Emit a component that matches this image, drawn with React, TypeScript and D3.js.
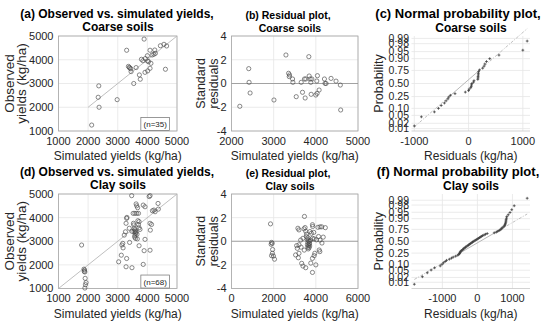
import * as d3 from "d3";

// ---------- Coarse soils ----------
const coarseSim = [3890, 3300, 4090, 4440, 4560, 4650, 4250, 4160, 4220, 4270, 4000, 3800, 3850, 3930, 4000, 4040, 3620, 3360, 3390, 3410, 3440, 3450, 4120, 4090, 4010, 3920, 4610, 3730, 3760, 3540, 2360, 2340, 2370, 2980, 2120];
const coarseObs = [4870, 4400, 4400, 4590, 4650, 4580, 4410, 4200, 4230, 4270, 4170, 4020, 3960, 4050, 3950, 3920, 3670, 3720, 3680, 3650, 3620, 3500, 3850, 3640, 3530, 3470, 3600, 3360, 3180, 3000, 2900, 2420, 2000, 2320, 1250];

const coarseResSim = [2197, 2409, 2417, 2441, 3007, 3291, 3354, 3377, 3369, 3448, 3456, 3535, 3653, 3684, 3731, 3763, 3747, 3834, 3842, 3865, 3881, 3889, 3905, 4023, 3999, 4038, 4030, 4078, 4204, 4219, 4243, 4361, 4479, 4589, 4581];
const coarseStdRes = [-1.92, 1.25, 0.1, -0.8, -1.39, 2.4, 0.86, 0.72, 0.58, 0.38, 0.1, -1.11, 0.1, -0.74, 0.38, 0.38, -1.22, 2.26, 0.63, 0.38, 0.1, -0.91, 0.38, 0.21, -0.97, 0.66, -0.83, -0.55, 0.38, 0.01, 0.0, 0.43, 0.2, -2.23, -0.13];

const coarseResiduals = [-1000, -870, -630, -555, -505, -445, -415, -380, -365, -335, -250, -60, 0, 10, 40, 50, 55, 60, 90, 100, 170, 175, 175, 180, 180, 185, 200, 260, 285, 300, 330, 390, 560, 1000, 1080];

// ---------- Clay soils ----------
const claySim = [1780, 1860, 1880, 1870, 1890, 1900, 1930, 1910, 1890,
  3470, 4060, 4090, 3620, 3640, 3670, 3860, 3920, 4360, 4170, 4220, 4260, 4370, 3520, 3580, 3640, 3700,
  3310, 3300, 3280, 3390, 3680, 3720, 3720, 3530, 3540, 3560, 3580, 3600, 3620, 3600, 3580, 3570, 3600, 3550, 3650, 3260, 3220, 4090, 4140, 4100, 3920,
  3170, 3140, 3180, 3120, 3030, 3300, 3280, 3480, 3860, 3720, 3890, 4090,
  3480, 3660, 3700, 3400, 3750];
const clayObs = [2840, 1820, 1780, 1720, 1700, 1430, 1250, 1160, 1020,
  4930, 4890, 4930, 4580, 4500, 4420, 4530, 4460, 4600, 4290, 4320, 4250, 4360, 4180, 4180, 4180, 4180,
  4010, 3970, 3760, 3550, 3870, 3830, 3570, 3760, 3690, 3540, 3480, 3420, 3380, 3330, 3250, 3180, 3120, 3400, 3300, 3400, 3260, 3760, 3710, 3470, 3080,
  2910, 2840, 2720, 2410, 2130, 2270, 1920, 1880, 2020, 2810, 2600, 2620,
  3420, 3100, 3700, 2950, 3500];

const clayResSim = [1850, 1900, 1930, 1880, 1950, 1940, 1900, 1990, 2040,
  3460, 3150, 3200, 3440, 3490, 3520, 3840, 3850, 3720, 3790, 4200, 4280, 4450, 4130, 4350,
  3840, 3920, 4030, 4200, 4290, 3280, 3390, 3550, 3620,
  3600, 3650, 3700, 3620, 3680, 3600, 3660, 3710, 3620, 3680, 3640, 3700, 3750,
  3090, 3120, 3200, 3040, 3170, 3200, 3330, 3390, 3520, 3840, 3920, 3950, 4000, 3760, 3840, 4160, 4190, 3300, 3450,
  3560, 3900, 4100];
const clayStdRes = [1.47, -0.1, -0.18, -0.26, -0.7, -1.02, -1.22, -1.25, -1.52,
  2.1, 1.1, 0.96, 1.05, 1.16, 0.85, 1.4, 1.25, 0.82, 0.68, 1.22, 1.22, 1.15, 0.4, 0.35,
  0.25, 0.2, 0.12, 0.1, -0.15, 0.1, 0.25, 0.4, 0.3,
  0.15, 0.05, 0.0, -0.1, -0.2, -0.3, -0.35, -0.4, -0.5, -0.55, -0.65, -0.2, 0.1,
  -0.37, -0.6, -0.3, -1.16, -1.4, -1.02, -1.87, -2.1, -2.24, -1.45, -1.22, -1.02, -2.0, -1.85, -2.64, -0.74, -0.88, -0.5, -0.75,
  0.6, 0.75, 1.18];

const clayResiduals = [-1800, -1570, -1430, -1320, -1220, -1060, -1010, -970, -920, -880, -800, -740, -690, -620, -560, -530, -510, -500, -490, -470, -450, -420, -400, -380, -350, -330, -300, -270, -250, -220, -200, -170, -140, -120, -90, -60, -30, 0, 30, 60, 90, 120, 150, 190, 230, 280, 480, 540, 580, 620, 650, 680, 700, 730, 760, 780, 790, 800, 810, 815, 820, 830, 840, 880, 930, 980, 1050, 1420];

// ---------- ticks / labels ----------
const yieldTicks = [1000, 2000, 3000, 4000, 5000];
const stdResTicks = [-4, -2, 0, 2, 4];
const coarseResTicks = [2000, 3000, 4000, 5000];
const clayResTicks = [0, 2000, 4000, 6000];
const normTicks = [-1000, 0, 1000];
const probTicks = [0.01, 0.02, 0.05, 0.1, 0.25, 0.5, 0.75, 0.9, 0.95, 0.98, 0.99];
const probLabels = ["0.01", "0.02", "0.05", "0.10", "0.25", "0.50", "0.75", "0.90", "0.95", "0.98", "0.99"];
const coarseLine = [2000, 5000];
const clayLine = [1000, 5000];

const FONT = "'Liberation Sans', Arial, Helvetica, sans-serif";
const GRID = "#e6e6e6";
const AXIS = "#a6a6a6";
const TXT = "#262626";
const MARK = "#4a4a4a";

const cols = [[58.5, 177], [231.5, 358], [411.5, 530]];
const rows = [[36, 131], [194, 288.5]];

// inverse normal CDF (Acklam)
function norminv(p: number) {
  const a = [-39.69683028665376, 220.9460984245205, -275.9285104469687, 138.357751867269, -30.66479806614716, 2.506628277459239];
  const b = [-54.47609879822406, 161.5858368580409, -155.6989798598866, 66.80131188771972, -13.28068155288572];
  const c = [-0.007784894002430293, -0.3223964580411365, -2.400758277161838, -2.549732539343734, 4.374664141464968, 2.938163982698783];
  const d = [0.007784695709041462, 0.3224671290700398, 2.445134137142996, 3.754408661907416];
  const lo = 0.02425;
  if (p < lo) {
    const q = Math.sqrt(-2 * Math.log(p));
    return (((((c[0] * q + c[1]) * q + c[2]) * q + c[3]) * q + c[4]) * q + c[5]) / ((((d[0] * q + d[1]) * q + d[2]) * q + d[3]) * q + 1);
  }
  if (p <= 1 - lo) {
    const q = p - 0.5, r = q * q;
    return (((((a[0] * r + a[1]) * r + a[2]) * r + a[3]) * r + a[4]) * r + a[5]) * q / (((((b[0] * r + b[1]) * r + b[2]) * r + b[3]) * r + b[4]) * r + 1);
  }
  return -norminv(1 - p);
}

// matlab-style percentile
function prctile(sorted: number[], p: number) {
  const n = sorted.length;
  const pos = n * p + 0.5;
  const i = Math.floor(pos);
  if (i < 1) return sorted[0];
  if (i >= n) return sorted[n - 1];
  return sorted[i - 1] + (pos - i) * (sorted[i] - sorted[i - 1]);
}

function Frame({ xs, ys, xTicks, yTicks }: any) {
  const [x0, x1] = xs.range();
  const [yb, yt] = ys.range();
  return (
    <g>
      {xTicks.map((t: number) => (
        <line key={"gx" + t} x1={xs(t)} x2={xs(t)} y1={yt} y2={yb} stroke={GRID} strokeWidth={0.8} />
      ))}
      {yTicks.map((t: number) => (
        <line key={"gy" + t} x1={x0} x2={x1} y1={ys(t)} y2={ys(t)} stroke={GRID} strokeWidth={0.8} />
      ))}
      <rect x={x0} y={yt} width={x1 - x0} height={yb - yt} fill="none" stroke={AXIS} strokeWidth={0.8} />
      {xTicks.map((t: number) => (
        <text key={"tx" + t} x={xs(t)} y={yb + 13.5} textAnchor="middle" fontSize={11} fill={TXT}>{t}</text>
      ))}
      {yTicks.map((t: number) => (
        <text key={"ty" + t} x={x0 - 5} y={ys(t)} dy="0.36em" textAnchor="end" fontSize={11} fill={TXT}>{t}</text>
      ))}
    </g>
  );
}

function Title({ cx, y, lines, sizes }: any) {
  return (
    <g fontWeight="bold" fill="#000" textAnchor="middle">
      {lines.map((s: string, i: number) => (
        <text key={i} x={cx[i]} y={y + i * 13.5} fontSize={sizes[i]}>{s}</text>
      ))}
    </g>
  );
}

function YLabel({ x, cy, lines, size }: any) {
  return (
    <g fill={TXT} textAnchor="middle" fontSize={size}>
      {lines.map((s: string, i: number) => (
        <text key={i} transform={`translate(${x[i]},${cy}) rotate(-90)`}>{s}</text>
      ))}
    </g>
  );
}

function Circles({ xs, ys, xv, yv }: any) {
  return (
    <g fill="none" stroke={MARK} strokeWidth={0.65}>
      {xv.map((v: number, i: number) => (
        <circle key={i} cx={xs(v)} cy={ys(yv[i])} r={2.1} />
      ))}
    </g>
  );
}

function ObsPanel({ col, row, sim, obs, line, n }: any) {
  const xs = d3.scaleLinear().domain([1000, 5000]).range(cols[col]);
  const ys = d3.scaleLinear().domain([1000, 5000]).range([rows[row][1], rows[row][0]]);
  const bx = xs(3780), by = ys(1570);
  return (
    <g>
      <Frame xs={xs} ys={ys} xTicks={yieldTicks} yTicks={yieldTicks} />
      <line x1={xs(line[0])} y1={ys(line[0])} x2={xs(line[1])} y2={ys(line[1])} stroke="#b8b8b8" strokeWidth={0.9} />
      <Circles xs={xs} ys={ys} xv={sim} yv={obs} />
      <rect x={bx} y={by} width={xs(4750) - bx} height={ys(1020) - by} fill="#fff" stroke="#6e6e6e" strokeWidth={0.7} />
      <text x={(bx + xs(4750)) / 2} y={ys(1020) - 3.5} textAnchor="middle" fontSize={8} fill={TXT}>{`(n=${n})`}</text>
    </g>
  );
}

function ResPanel({ col, row, sim, res, xDomain, xTicks }: any) {
  const xs = d3.scaleLinear().domain(xDomain).range(cols[col]);
  const ys = d3.scaleLinear().domain([-4, 4]).range([rows[row][1], rows[row][0]]);
  return (
    <g>
      <Frame xs={xs} ys={ys} xTicks={xTicks} yTicks={stdResTicks} />
      <line x1={xs.range()[0]} x2={xs.range()[1]} y1={ys(0)} y2={ys(0)} stroke="#8f8f8f" strokeWidth={0.8} />
      <Circles xs={xs} ys={ys} xv={sim} yv={res} />
    </g>
  );
}

function NormPanel({ col, row, res }: any) {
  const sorted = [...res].sort((a, b) => a - b);
  const n = sorted.length;
  const zMax = -norminv(0.25 / n);
  const lo = sorted[0], hi = sorted[n - 1];
  const pad = 0.025 * (hi - lo);
  const xs = d3.scaleLinear().domain([lo - pad, hi + pad]).range(cols[col]);
  const ys = d3.scaleLinear().domain([-zMax, zMax]).range([rows[row][1], rows[row][0]]);
  const q1 = prctile(sorted, 0.25), q3 = prctile(sorted, 0.75);
  const z1 = norminv(0.25), z3 = norminv(0.75);
  const slope = (z3 - z1) / (q3 - q1);
  const zAt = (v: number) => z1 + (v - q1) * slope;
  const probZ = probTicks.map(norminv);
  return (
    <g>
      <g>
        {normTicks.map((t) => (
          <line key={"v" + t} x1={xs(t)} x2={xs(t)} y1={rows[row][0]} y2={rows[row][1]} stroke={GRID} strokeWidth={0.8} />
        ))}
        {probZ.map((z, i) => (
          <line key={"h" + i} x1={cols[col][0]} x2={cols[col][1]} y1={ys(z)} y2={ys(z)} stroke={GRID} strokeWidth={0.8} />
        ))}
        <line x1={cols[col][0]} x2={cols[col][1]} y1={rows[row][1]} y2={rows[row][1]} stroke="#c8c8c8" strokeWidth={0.8} />
        {normTicks.map((t) => (
          <text key={"tx" + t} x={xs(t)} y={rows[row][1] + 13.5} textAnchor="middle" fontSize={11} fill={TXT}>{t}</text>
        ))}
        {probZ.map((z, i) => (
          <text key={"ty" + i} x={cols[col][0] - 2.5} y={ys(z)} dy="0.36em" textAnchor="end" fontSize={10.5} fill={TXT}>{probLabels[i]}</text>
        ))}
      </g>
      <line x1={xs(lo)} y1={ys(zAt(lo))} x2={xs(q1)} y2={ys(z1)} stroke="#b0b0b0" strokeWidth={0.8} strokeDasharray="3 1.5 1 1.5" />
      <line x1={xs(q3)} y1={ys(z3)} x2={xs(hi)} y2={ys(zAt(hi))} stroke="#b0b0b0" strokeWidth={0.8} strokeDasharray="3 1.5 1 1.5" />
      <line x1={xs(q1)} y1={ys(z1)} x2={xs(q3)} y2={ys(z3)} stroke="#b0b0b0" strokeWidth={0.9} />
      <g stroke="#3a3a3a" strokeWidth={0.75}>
        {sorted.map((v, i) => {
          const cx = xs(v), cy = ys(norminv((i + 0.5) / n));
          return <path key={i} d={`M${cx - 1.4},${cy}H${cx + 1.4}M${cx},${cy - 1.4}V${cy + 1.4}`} />;
        })}
      </g>
    </g>
  );
}

export default function App() {
  const mid = (r: number[]) => (r[0] + r[1]) / 2;
  return (
    <svg width={550} height={323} style={{ position: "absolute", left: 0, top: 0, background: "#fff" }} fontFamily={FONT}>
      <rect width={550} height={323} fill="#fff" />
      {[0, 1].map((row) => {
        const dy = row * 158;
        const soil = row === 0 ? "Coarse soils" : "Clay soils";
        const L = row === 0 ? ["(a)", "(b)", "(c)"] : ["(d)", "(e)", "(f)"];
        return (
          <g key={row}>
            <Title cx={[117, 118]} y={17.5 + dy} lines={[`${L[0]} Observed vs. simulated yields,`, soil]} sizes={[12, 12]} />
            <Title cx={[288, 290]} y={18.5 + dy} lines={[`${L[1]} Residual plot,`, soil]} sizes={[10.5, 10.5]} />
            <Title cx={[458, 471]} y={18 + dy} lines={[`${L[2]} Normal probability plot,`, soil]} sizes={[13, 12]} />
            <YLabel x={[13.5, 26]} cy={mid(rows[row])} lines={["Observed", "yields (kg/ha)"]} size={13.5} />
            <YLabel x={[205, 218]} cy={mid(rows[row])} lines={["Standard", "residuals"]} size={12.5} />
            <YLabel x={[382.5]} cy={mid(rows[row])} lines={["Probability"]} size={12.5} />
            <g fill={TXT} fontSize={12} textAnchor="middle">
              <text x={mid(cols[0])} y={159.5 + dy}>Simulated yields (kg/ha)</text>
              <text x={mid(cols[1])} y={159.5 + dy}>Simulated yields (kg/ha)</text>
              <text x={mid(cols[2])} y={159.5 + dy}>Residuals (kg/ha)</text>
            </g>
          </g>
        );
      })}
      <ObsPanel col={0} row={0} sim={coarseSim} obs={coarseObs} line={coarseLine} n={35} />
      <ResPanel col={1} row={0} sim={coarseResSim} res={coarseStdRes} xDomain={[2000, 5000]} xTicks={coarseResTicks} />
      <NormPanel col={2} row={0} res={coarseResiduals} />
      <ObsPanel col={0} row={1} sim={claySim} obs={clayObs} line={clayLine} n={68} />
      <ResPanel col={1} row={1} sim={clayResSim} res={clayStdRes} xDomain={[0, 6000]} xTicks={clayResTicks} />
      <NormPanel col={2} row={1} res={clayResiduals} />
    </svg>
  );
}
